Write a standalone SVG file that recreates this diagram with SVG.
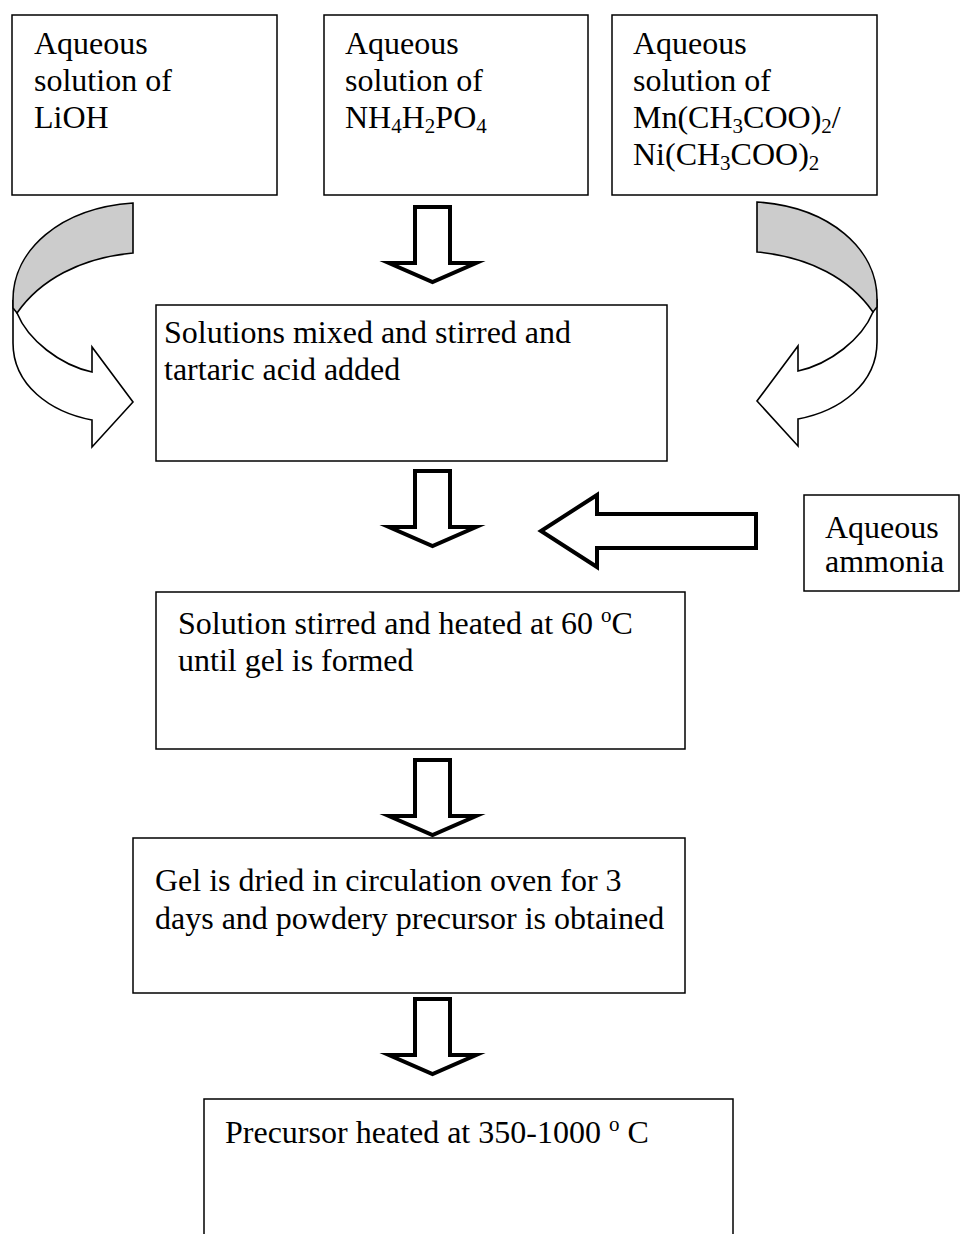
<svg xmlns="http://www.w3.org/2000/svg" width="961" height="1234" viewBox="0 0 961 1234">
<style>
.box{fill:#fff;stroke:#000;stroke-width:1.5}
.t{font-family:"Liberation Serif","Times New Roman",serif;font-size:32px;fill:#000}
.s{font-size:21px}
.blk{fill:#fff;stroke:#000;stroke-width:4;stroke-linejoin:miter;stroke-miterlimit:10}
.crv{stroke:#000;stroke-width:1.6;stroke-linejoin:miter}
</style>
<defs>
<g id="curve">
<path class="crv" fill="#fff" d="M13,300 L13,343 C13,385 50,412 92,420 L92,447 L133,402 L92,347 L92,372 C60,365 28,340 17,313 Z"/>
<path class="crv" fill="#cccccc" d="M133,203 C60,208 13,250 13,300 L13,308 L17,313 C40,280 80,258 133,253 Z"/>
</g>
</defs>
<g id="connectors">
<use href="#curve"/>
<use href="#curve" transform="matrix(-1,0,0,1,890,-1)"/>
<path class="blk" d="M415,207 L450,207 L450,263 L476,263 L432.5,282 L389,263 L415,263 Z"/>
<path class="blk" d="M415,471 L450,471 L450,527 L476,527 L432.5,546 L389,527 L415,527 Z"/>
<path class="blk" d="M415,760 L450,760 L450,816 L476,816 L432.5,835 L389,816 L415,816 Z"/>
<path class="blk" d="M415,999 L450,999 L450,1055 L476,1055 L432.5,1074 L389,1055 L415,1055 Z"/>
<path class="blk" d="M756,514 L756,548 L597,548 L597,567 L541,531 L597,495 L597,514 Z"/>
</g>
<g id="n_lioh">
<rect class="box" x="12" y="15" width="265" height="180"/>
<text class="t" x="34" y="54">Aqueous</text>
<text class="t" x="34" y="91">solution of</text>
<text class="t" x="34" y="128">LiOH</text>
</g>
<g id="n_nh4">
<rect class="box" x="324" y="15" width="264" height="180"/>
<text class="t" x="345" y="54">Aqueous</text>
<text class="t" x="345" y="91">solution of</text>
<text class="t" x="345" y="128">NH<tspan class="s" dy="5">4</tspan><tspan dy="-5">H</tspan><tspan class="s" dy="5">2</tspan><tspan dy="-5">PO</tspan><tspan class="s" dy="5">4</tspan></text>
</g>
<g id="n_mn">
<rect class="box" x="612" y="15" width="265" height="180"/>
<text class="t" x="633" y="54">Aqueous</text>
<text class="t" x="633" y="91">solution of</text>
<text class="t" x="633" y="128">Mn(CH<tspan class="s" dy="5">3</tspan><tspan dy="-5">COO)</tspan><tspan class="s" dy="5">2</tspan><tspan dy="-5">/</tspan></text>
<text class="t" x="633" y="165">Ni(CH<tspan class="s" dy="5">3</tspan><tspan dy="-5">COO)</tspan><tspan class="s" dy="5">2</tspan></text>
</g>
<g id="n_mix">
<rect class="box" x="156" y="305" width="511" height="156"/>
<text class="t" x="164" y="343">Solutions mixed and stirred and</text>
<text class="t" x="164" y="380">tartaric acid added</text>
</g>
<g id="n_ammonia">
<rect class="box" x="804" y="495" width="155" height="96"/>
<text class="t" x="825" y="538">Aqueous</text>
<text class="t" x="825" y="572">ammonia</text>
</g>
<g id="n_heat60">
<rect class="box" x="156" y="592" width="529" height="157"/>
<text class="t" x="178" y="634">Solution stirred and heated at 60 <tspan class="s" dy="-12">o</tspan><tspan dy="12">C</tspan></text>
<text class="t" x="178" y="671">until gel is formed</text>
</g>
<g id="n_dry">
<rect class="box" x="133" y="838" width="552" height="155"/>
<text class="t" x="155" y="891">Gel is dried in circulation oven for 3</text>
<text class="t" x="155" y="929">days and powdery precursor is obtained</text>
</g>
<g id="n_final">
<rect class="box" x="204" y="1099" width="529" height="150"/>
<text class="t" x="225" y="1143">Precursor heated at 350-1000 <tspan class="s" dy="-12">o</tspan><tspan dy="12"> C</tspan></text>
</g>
</svg>
